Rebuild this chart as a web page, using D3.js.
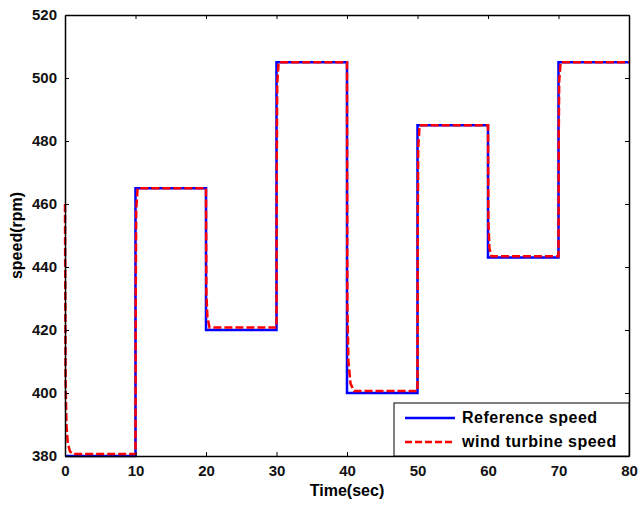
<!DOCTYPE html>
<html>
<head>
<meta charset="utf-8">
<script src="https://cdn.jsdelivr.net/npm/d3@7"></script>
<style>
  body { margin: 0; background: #fff; }
  text { font-family: "Liberation Sans", Arial, sans-serif; font-weight: bold; }
</style>
</head>
<body>
<div id="chart"></div>
<script>
// reference speed (step profile)
var refTime = [0, 10, 10, 20, 20, 30, 30, 40, 40, 50, 50, 60, 60, 70, 70, 80];
var refSpeed = [380, 380, 465, 465, 420, 420, 505, 505, 400, 400, 485, 485, 443, 443, 505, 505];

// wind turbine speed
var windTime = [0, 0.08, 0.2, 0.4, 0.7, 1.1, 10, 10.03, 10.1, 10.3, 20, 20.05, 20.2, 20.5, 30, 30.03, 30.1, 30.3,
                40, 40.05, 40.2, 40.5, 41.0, 50, 50.03, 50.1, 50.3, 60, 60.05, 60.2, 60.5, 70, 70.03, 70.1, 70.3, 80];
var windSpeed = [460, 405, 390, 384, 381.5, 380.6, 380.6, 430, 458, 465, 465, 432, 424, 420.8, 420.8, 470, 498, 505,
                 505, 428, 410, 403, 400.6, 400.6, 450, 478, 485, 485, 455, 446, 443.4, 443.4, 480, 499, 505, 505];

var xTicks = [0, 10, 20, 30, 40, 50, 60, 70, 80];
var yTicks = [380, 400, 420, 440, 460, 480, 500, 520];
var legendNames = ["Reference speed", "wind turbine speed"];

var width = 638, height = 506;
var plotLeft = 65, plotRight = 629, plotTop = 15, plotBottom = 456;

var svg = d3.select("#chart").append("svg")
    .attr("width", width)
    .attr("height", height);

var x = d3.scaleLinear().domain([0, 80]).range([plotLeft, plotRight]);
var y = d3.scaleLinear().domain([380, 520]).range([plotBottom, plotTop]);

var line = d3.line().x(d => x(d[0])).y(d => y(d[1]));
var refData = refTime.map((t, i) => [t, refSpeed[i]]);
var windData = windTime.map((t, i) => [t, windSpeed[i]]);

svg.append("path")
    .attr("d", line(refData))
    .attr("fill", "none")
    .attr("stroke", "#0000ff")
    .attr("stroke-width", 2.5);

svg.append("path")
    .attr("d", line(windData))
    .attr("fill", "none")
    .attr("stroke", "#ff0000")
    .attr("stroke-width", 2.5)
    .attr("stroke-dasharray", "8,3");

// axes, ticks pointing inward, mirrored on top/right
function xAxis(g) {
    g.attr("transform", `translate(0, ${plotBottom})`)
     .call(d3.axisBottom(x).tickValues(xTicks).tickSizeInner(-4).tickSizeOuter(0).tickPadding(9))
     .attr("font-size", "15px");
}
function yAxis(g) {
    g.attr("transform", `translate(${plotLeft}, 0)`)
     .call(d3.axisLeft(y).tickValues(yTicks).tickSizeInner(-4).tickSizeOuter(0).tickPadding(8))
     .attr("font-size", "15px");
}
svg.append("g").call(xAxis);
svg.append("g").call(yAxis);
svg.append("g").attr("transform", `translate(0, ${plotTop})`)
    .call(d3.axisTop(x).tickValues(xTicks).tickSizeInner(-4).tickSizeOuter(0).tickFormat(""));
svg.append("g").attr("transform", `translate(${plotRight}, 0)`)
    .call(d3.axisRight(y).tickValues(yTicks).tickSizeInner(-4).tickSizeOuter(0).tickFormat(""));

svg.selectAll(".domain").attr("stroke", "#000").attr("stroke-width", 1.5);
svg.selectAll(".tick line").attr("stroke", "#000");
svg.selectAll(".tick text").attr("fill", "#111").attr("font-weight", "bold");

// axis labels
svg.append("text")
    .attr("x", (plotLeft + plotRight) / 2)
    .attr("y", 496)
    .attr("text-anchor", "middle")
    .attr("font-size", "16px")
    .text("Time(sec)");

svg.append("text")
    .attr("transform", `translate(22, ${(plotTop + plotBottom) / 2}) rotate(-90)`)
    .attr("text-anchor", "middle")
    .attr("font-size", "16px")
    .text("speed(rpm)");

// legend
var legend = svg.append("g").attr("transform", "translate(394, 403)");
legend.append("rect")
    .attr("width", plotRight - 394).attr("height", plotBottom - 403)
    .attr("fill", "#fff").attr("stroke", "#000").attr("stroke-width", 1);
var legendColors = ["#0000ff", "#ff0000"];
var legendDash = [null, "7,3"];
legendNames.forEach((name, i) => {
    var ly = 15 + i * 24;
    legend.append("line")
        .attr("x1", 11).attr("x2", 61)
        .attr("y1", ly).attr("y2", ly)
        .attr("stroke", legendColors[i])
        .attr("stroke-width", 2.5)
        .attr("stroke-dasharray", legendDash[i]);
    legend.append("text")
        .attr("x", 68).attr("y", ly + 5)
        .attr("font-size", "16px")
        .attr("letter-spacing", "0.5px")
        .text(name);
});
</script>
</body>
</html>
